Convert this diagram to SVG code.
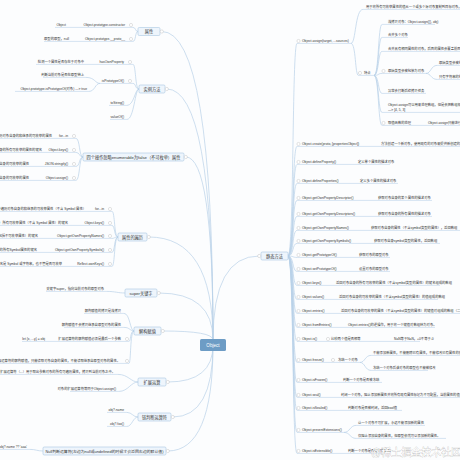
<svg xmlns="http://www.w3.org/2000/svg" width="460" height="460" viewBox="0 0 460 460">
<style>
text{font-family:"Liberation Sans","Noto Sans CJK SC",sans-serif;fill:#333}
.t{font-size:3.3px}
.e{text-anchor:end}
.bt{font-size:4.2px;text-anchor:middle}
.ul{stroke:#b9d1e8;stroke-width:0.6;fill:none}
.cn{stroke:#b9d1e8;stroke-width:0.7;fill:none}
.bx{fill:#eef5fc;stroke:#a9c7e3;stroke-width:0.6}
.tg{fill:#fff;stroke:#b8b8b8;stroke-width:0.4}
</style>
<rect width="460" height="460" fill="#fcfdfe"/>
<g id="connectors">
<path class="cn" d="M213 340Q213 31.5 161.8 31.5M213 340Q213 89 166.8 89M213 340Q213 157 185.8 157M213 340Q213 237 148.8 237M213 340Q213 293 158.8 293M213 340Q213 331 162.8 331M213 345Q213 382 167.8 382M213 345Q213 417 172.8 417M213 345Q213 451 167.8 451M213 340Q213 256 259.2 256"/>
<path class="cn" d="M138 31.5C135 31.5 136 27.4 133 27.4M138 31.5C135 31.5 136 41.4 133 41.4"/>
<path class="cn" d="M139 89C135 89 136 64.4 133 64.4M139 89C135 89 136 83.4 133 83.4M139 89C135 89 134 105.4 127 105.4M139 89C135 89 134 119.4 127 119.4M100 83.4C95 83.4 95 77.4 86 77.4M100 83.4C95 83.4 95 91.4 89 91.4"/>
<path class="cn" d="M83 157C79 157 80 138.4 76 138.4M83 157C79 157 80 152.4 76 152.4M83 157C79 157 80 166.4 76 166.4M83 157C79 157 80 180.4 76 180.4"/>
<path class="cn" d="M118 237C114 237 115 211.4 112 211.4M118 237C114 237 115 225.4 112 225.4M118 237C114 237 115 238.4 112 238.4M118 237C114 237 115 252.4 112 252.4M118 237C114 237 115 266.4 112 266.4"/>
<path class="cn" d="M125 293C118 293 115 291.4 107 291.4"/>
<path class="cn" d="M134 331C130 331 130 313.4 124 313.4M134 331C130 331 130 327.4 124 327.4M134 331C130 331 131 341.4 129 341.4M134 331C130 331 131 363.4 129 363.4"/>
<path class="cn" d="M138 382C131 382 128 374.4 118 374.4M138 382C131 382 128 391.4 119 391.4"/>
<path class="cn" d="M138 417C133 417 132 412.4 127 412.4M138 417C133 417 132 426.4 127 426.4"/>
<path class="cn" d="M43 451C37 451 36 449.4 30 449.4"/>
<path class="cn" d="M288 256C294 256 292 43.4 297 43.4M288 256C294 256 292 146.4 297 146.4M288 256C294 256 292 164.4 297 164.4M288 256C294 256 292 183.4 297 183.4M288 256C294 256 292 200.4 297 200.4M288 256C294 256 292 216.4 297 216.4M288 256C294 256 292 230.4 297 230.4M288 256C294 256 292 243.4 297 243.4M288 256C294 256 292 257.4 297 257.4M288 256C294 256 292 271.4 297 271.4M288 256C294 256 292 285.4 297 285.4M288 256C294 256 292 299.4 297 299.4M288 256C294 256 292 313.4 297 313.4M288 256C294 256 292 327.4 297 327.4M288 256C294 256 292 341.4 297 341.4M288 256C294 256 292 362.4 297 362.4M288 256C294 256 292 382.4 297 382.4M288 256C294 256 292 397.4 297 397.4M288 256C294 256 292 410.4 297 410.4M288 256C294 256 292 432.4 297 432.4M288 256C294 256 292 453.4 297 453.4"/>
<path class="cn" d="M351 43.4C356 43.4 355 9.4 363 9.4M351 43.4C356 43.4 355 75.4 358.4 75.4"/>
<path class="cn" d="M374 75.4C379 75.4 378 24.4 382 24.4M374 75.4C379 75.4 378 37.4 382 37.4M374 75.4C379 75.4 378 51.4 382 51.4M374 75.4C379 75.4 378 73.4 382 73.4M374 75.4C379 75.4 378 93.4 382 93.4M374 75.4C379 75.4 378 112.4 382 112.4M374 75.4C379 75.4 378 125.4 382 125.4M426 73.4C431 73.4 431 65.4 437 65.4M426 73.4C431 73.4 431 79.4 437 79.4"/>
<path class="cn" d="M360 362.4C365 362.4 365 355.4 371 355.4M360 362.4C365 362.4 365 370.4 371 370.4M344 432.4C350 432.4 350 425.4 356 425.4M344 432.4C350 432.4 350 438.4 356 438.4"/>
</g>
<g id="root"><rect x="200" y="339" width="26" height="12" rx="1.5" fill="#6d9cc5"/><text x="213" y="346.6" style="font-size:4.6px;text-anchor:middle;fill:#fff">Object</text></g>
<g id="b1"><rect class="bx" x="138" y="27.5" width="22" height="8" rx="1.2"/><text class="bt" x="149" y="33">属性</text><circle class="tg" cx="161.8" cy="31.5" r="1.6"/></g>
<g id="b1-1"><line class="ul" x1="55" y1="27.4" x2="133" y2="27.4"/><text class="t e" x="125" y="26.1">Object.prototype.constructor</text><text class="t e" x="66" y="26.1">Object</text><circle class="tg" cx="131" cy="25" r="1.6"/></g>
<g id="b1-2"><line class="ul" x1="44" y1="41.4" x2="133" y2="41.4"/><text class="t e" x="125" y="40.1">Object.prototype.__proto__</text><text class="t e" x="69" y="40.1">原型的原型，null</text><circle class="tg" cx="131" cy="39" r="1.6"/></g>
<g id="b2"><rect class="bx" x="139" y="85" width="26" height="8" rx="1.2"/><text class="bt" x="152" y="90.5">实例方法</text><circle class="tg" cx="166.8" cy="89" r="1.6"/></g>
<g id="b2-1"><line class="ul" x1="36" y1="64.4" x2="133" y2="64.4"/><text class="t e" x="124" y="63.1">hasOwnProperty</text><text class="t e" x="84" y="63.1">检测一个属性是否存在于对象中</text><circle class="tg" cx="130" cy="62" r="1.6"/></g>
<g id="b2-2"><line class="ul" x1="100" y1="83.4" x2="133" y2="83.4"/><text class="t e" x="124" y="82.1">isPrototypeOf()</text><circle class="tg" cx="130" cy="81" r="1.6"/><line class="ul" x1="43" y1="77.4" x2="86" y2="77.4"/><text class="t e" x="84" y="76.1">判断当前对象是否在原型链上</text><line class="ul" x1="15" y1="91.4" x2="89" y2="91.4"/><text class="t e" x="87" y="90.1">Object.prototype.isPrototypeOf(对象) ---&gt; true</text></g>
<g id="b2-3"><line class="ul" x1="109" y1="105.4" x2="127" y2="105.4"/><text class="t e" x="124" y="104.1">toString()</text></g>
<g id="b2-4"><line class="ul" x1="110" y1="119.4" x2="127" y2="119.4"/><text class="t e" x="124" y="118.1">valueOf()</text></g>
<g id="b3"><rect class="bx" x="83" y="153" width="101" height="8" rx="1.2"/><text class="bt" x="133.5" y="158.5">四个操作忽略enumerable为false（不可枚举）属性</text><circle class="tg" cx="185.8" cy="157" r="1.6"/></g>
<g id="b3-1"><line class="ul" x1="0" y1="138.4" x2="76" y2="138.4"/><text class="t e" x="68" y="137.1">for...in</text><text class="t e" x="52" y="137.1">只遍历对象自身的和继承的可枚举的属性</text><circle class="tg" cx="74" cy="136" r="1.6"/></g>
<g id="b3-2"><line class="ul" x1="0" y1="152.4" x2="76" y2="152.4"/><text class="t e" x="68" y="151.1">Object.keys()</text><text class="t e" x="42" y="151.1">返回对象自身的所有可枚举的属性的键名</text><circle class="tg" cx="74" cy="150" r="1.6"/></g>
<g id="b3-3"><line class="ul" x1="0" y1="166.4" x2="76" y2="166.4"/><text class="t e" x="68" y="165.1">JSON.stringify()</text><text class="t e" x="29" y="165.1">只串行化对象自身的可枚举的属性</text><circle class="tg" cx="74" cy="164" r="1.6"/></g>
<g id="b3-4"><line class="ul" x1="0" y1="180.4" x2="76" y2="180.4"/><text class="t e" x="68" y="179.1">Object.assign()</text><text class="t e" x="29" y="179.1">只拷贝对象自身的可枚举的属性</text><circle class="tg" cx="74" cy="178" r="1.6"/></g>
<g id="b4"><rect class="bx" x="118" y="233" width="29" height="8" rx="1.2"/><text class="bt" x="132.5" y="238.5">属性的遍历</text><circle class="tg" cx="148.8" cy="237" r="1.6"/></g>
<g id="b4-1"><line class="ul" x1="0" y1="211.4" x2="112" y2="211.4"/><text class="t e" x="104" y="210.1">for...in</text><text class="t e" x="86" y="210.1">循环遍历对象自身的和继承的可枚举属性（不含 Symbol 属性）</text><circle class="tg" cx="110" cy="209" r="1.6"/></g>
<g id="b4-2"><line class="ul" x1="0" y1="225.4" x2="112" y2="225.4"/><text class="t e" x="104" y="224.1">Object.keys()</text><text class="t e" x="68" y="224.1">返回一个数组，包括对象自身的（不含继承的）所有可枚举属性（不含 Symbol 属性）的键名</text><circle class="tg" cx="110" cy="223" r="1.6"/></g>
<g id="b4-3"><line class="ul" x1="0" y1="238.4" x2="112" y2="238.4"/><text class="t e" x="104" y="237.1">Object.getOwnPropertyNames()</text><text class="t e" x="38" y="237.1">返回一个数组，包含对象自身的所有属性（不含 Symbol 属性，但是包括不可枚举属性）的键名</text><circle class="tg" cx="110" cy="236" r="1.6"/></g>
<g id="b4-4"><line class="ul" x1="0" y1="252.4" x2="112" y2="252.4"/><text class="t e" x="104" y="251.1">Object.getOwnPropertySymbols()</text><text class="t e" x="37" y="251.1">返回一个数组，包含对象自身的所有Symbol属性的键名</text><circle class="tg" cx="110" cy="250" r="1.6"/></g>
<g id="b4-5"><line class="ul" x1="0" y1="266.4" x2="112" y2="266.4"/><text class="t e" x="104" y="265.1">Reflect.ownKeys()</text><text class="t e" x="62" y="265.1">返回一个数组，包含对象自身的所有键名，不管键名是 Symbol 或字符串，也不管是否可枚举</text><circle class="tg" cx="110" cy="264" r="1.6"/></g>
<g id="b5"><rect class="bx" x="125" y="289" width="32" height="8" rx="1.2"/><text class="bt" x="141" y="294.5">super关键字</text><circle class="tg" cx="158.8" cy="293" r="1.6"/></g>
<g id="b5-1"><line class="ul" x1="46" y1="291.4" x2="107" y2="291.4"/><text class="t e" x="104" y="290.1">关键字super，指向当前对象的原型对象</text></g>
<g id="b6"><rect class="bx" x="134" y="327" width="27" height="8" rx="1.2"/><text class="bt" x="147.5" y="332.5">解构赋值</text><circle class="tg" cx="162.8" cy="331" r="1.6"/></g>
<g id="b6-1"><line class="ul" x1="84" y1="313.4" x2="124" y2="313.4"/><text class="t e" x="121" y="312.1">解构赋值的拷贝是浅拷贝</text></g>
<g id="b6-2"><line class="ul" x1="64" y1="327.4" x2="124" y2="327.4"/><text class="t e" x="121" y="326.1">解构赋值不会拷贝继承自原型对象的属性</text></g>
<g id="b6-3"><line class="ul" x1="22" y1="341.4" x2="129" y2="341.4"/><text class="t e" x="121" y="340.1">扩展运算符的解构赋值必须是最后一个参数</text><text class="t e" x="45" y="340.1">let {x, ...y} = obj</text><circle class="tg" cx="127" cy="339" r="1.6"/></g>
<g id="b6-4"><line class="ul" x1="0" y1="363.4" x2="129" y2="363.4"/><text class="t e" x="120" y="362.1">扩展运算符的解构赋值，只能读取对象自身的属性，不能读取继承自原型对象的属性。</text><circle class="tg" cx="127" cy="361" r="1.6"/></g>
<g id="b7"><rect class="bx" x="138" y="378" width="28" height="8" rx="1.2"/><text class="bt" x="152" y="383.5">扩展运算</text><circle class="tg" cx="167.8" cy="382" r="1.6"/></g>
<g id="b7-1"><line class="ul" x1="0" y1="374.4" x2="118" y2="374.4"/><text class="t e" x="115" y="373.1">对象的扩展运算符（...）用于取出参数对象的所有可遍历属性，拷贝到当前对象之中。</text></g>
<g id="b7-2"><line class="ul" x1="70" y1="391.4" x2="119" y2="391.4"/><text class="t e" x="116" y="390.1">对象的扩展运算符等同于Object.assign()</text></g>
<g id="b8"><rect class="bx" x="138" y="413" width="33" height="8" rx="1.2"/><text class="bt" x="154.5" y="418.5">链判断运算符</text><circle class="tg" cx="172.8" cy="417" r="1.6"/></g>
<g id="b8-1"><line class="ul" x1="107" y1="412.4" x2="127" y2="412.4"/><text class="t e" x="124" y="411.1">obj?.name</text></g>
<g id="b8-2"><line class="ul" x1="107" y1="426.4" x2="127" y2="426.4"/><text class="t e" x="124" y="425.1">obj?.foo()</text></g>
<g id="b9"><rect class="bx" x="43" y="447" width="123" height="8" rx="1.2"/><text class="bt" x="104.5" y="452.5" style="font-size:3.9px">Null判断运算符(左边为null或undefined的时候才会返回右边的默认值)</text><circle class="tg" cx="167.8" cy="451" r="1.6"/></g>
<g id="b9-1"><line class="ul" x1="0" y1="449.4" x2="30" y2="449.4"/><text class="t e" x="27" y="448.1">obj?.name ?? 'aaa'</text></g>
<g id="s"><rect class="bx" x="261" y="252" width="27" height="8" rx="1.2"/><text class="bt" x="274.5" y="257.5">静态方法</text><circle class="tg" cx="259.2" cy="256" r="1.6"/></g>
<g id="s1"><line class="ul" x1="297" y1="43.4" x2="351" y2="43.4"/><circle class="tg" cx="298.5" cy="41" r="1.6"/><text class="t" x="302" y="42.1">Object.assign(target, ...sources)</text>
<line class="ul" x1="363" y1="9.4" x2="460" y2="9.4"/><text class="t" x="366" y="8.1">用于将所有可枚举属性的值从一个或多个源对象复制到目标对象，它将返回目标对象。</text>
<line class="ul" x1="358.4" y1="75.4" x2="374" y2="75.4"/><circle class="tg" cx="360" cy="73" r="1.6"/><text class="t" x="364" y="74.1">特点</text>
<line class="ul" x1="382" y1="24.4" x2="435" y2="24.4"/><text class="t" x="388" y="23.1">浅拷贝对象：Object.assign({}, obj)</text>
<line class="ul" x1="382" y1="37.4" x2="408" y2="37.4"/><text class="t" x="388" y="36.1">合并多个对象</text>
<line class="ul" x1="382" y1="51.4" x2="460" y2="51.4"/><text class="t" x="388" y="50.1">合并具有相同属性的对象，后面的属性会覆盖前面的属性（后面覆盖前面）</text>
<line class="ul" x1="382" y1="73.4" x2="426" y2="73.4"/><circle class="tg" cx="383.5" cy="71" r="1.6"/><text class="t" x="388" y="72.1">原始类型会被包装为对象</text>
<line class="ul" x1="437" y1="65.4" x2="460" y2="65.4"/><text class="t" x="439" y="64.1">原始类型会被包装为对象后再拷贝</text>
<line class="ul" x1="437" y1="79.4" x2="460" y2="79.4"/><text class="t" x="439" y="78.1">只有字符串的包装对象会产生可枚举属性</text>
<line class="ul" x1="382" y1="93.4" x2="426" y2="93.4"/><text class="t" x="388" y="92.1">异常会打断后续拷贝任务</text>
<line class="ul" x1="382" y1="112.4" x2="460" y2="112.4"/><text class="t" x="388" y="106.1">Object.assign可以用来处理数组，但是会把数组视为对象</text><text class="t" x="388" y="111.1">—&gt; [4, 5, 3]</text>
<line class="ul" x1="382" y1="125.4" x2="460" y2="125.4"/><circle class="tg" cx="383.5" cy="123" r="1.6"/><text class="t" x="388" y="124.1">取值函数的处理</text><text class="t" x="428" y="124.1">Object.assign只能进行值的复制，取值函数会求值后再复制</text></g>
<g id="s2"><line class="ul" x1="297" y1="146.4" x2="460" y2="146.4"/><circle class="tg" cx="298.5" cy="144" r="1.6"/><text class="t" x="302" y="145.1">Object.create(proto, [propertiesObject])</text><text class="t" x="381" y="145.1">方法创建一个新对象，使用现有的对象来提供新创建的对象的__proto__</text></g>
<g id="s3"><line class="ul" x1="297" y1="164.4" x2="390" y2="164.4"/><circle class="tg" cx="298.5" cy="162" r="1.6"/><text class="t" x="302" y="163.1">Object.defineProperty()</text><text class="t" x="358" y="163.1">定义单个属性的描述对象</text></g>
<g id="s4"><line class="ul" x1="297" y1="183.4" x2="398" y2="183.4"/><circle class="tg" cx="298.5" cy="181" r="1.6"/><text class="t" x="302" y="182.1">Object.defineProperties()</text><text class="t" x="360" y="182.1">定义多个属性的描述对象</text></g>
<g id="s5"><line class="ul" x1="297" y1="200.4" x2="432" y2="200.4"/><circle class="tg" cx="298.5" cy="198" r="1.6"/><text class="t" x="302" y="199.1">Object.getOwnPropertyDescriptor()</text><text class="t" x="378" y="199.1">获取对象自身的某个属性的描述对象</text></g>
<g id="s6"><line class="ul" x1="297" y1="216.4" x2="432" y2="216.4"/><circle class="tg" cx="298.5" cy="214" r="1.6"/><text class="t" x="302" y="215.1">Object.getOwnPropertyDescriptors()</text><text class="t" x="378" y="215.1">获取对象自身的所有属性的描述对象</text></g>
<g id="s7"><line class="ul" x1="297" y1="230.4" x2="460" y2="230.4"/><circle class="tg" cx="298.5" cy="228" r="1.6"/><text class="t" x="302" y="229.1">Object.getOwnPropertyNames()</text><text class="t" x="371" y="229.1">获取对象自身的属性（不含symbol类型的属性），返回数组</text></g>
<g id="s8"><line class="ul" x1="297" y1="243.4" x2="440" y2="243.4"/><circle class="tg" cx="298.5" cy="241" r="1.6"/><text class="t" x="302" y="242.1">Object.getOwnPropertySymbols()</text><text class="t" x="374" y="242.1">获取对象自身symbol类型的属性，返回数组</text></g>
<g id="s9"><line class="ul" x1="297" y1="257.4" x2="390" y2="257.4"/><circle class="tg" cx="298.5" cy="255" r="1.6"/><text class="t" x="302" y="256.1">Object.getPrototypeOf()</text><text class="t" x="359" y="256.1">获取对象的原型对象</text></g>
<g id="s10"><line class="ul" x1="297" y1="271.4" x2="390" y2="271.4"/><circle class="tg" cx="298.5" cy="269" r="1.6"/><text class="t" x="302" y="270.1">Object.setPrototypeOf()</text><text class="t" x="359" y="270.1">设置对象的原型对象</text></g>
<g id="s11"><line class="ul" x1="297" y1="285.4" x2="440" y2="285.4"/><circle class="tg" cx="298.5" cy="283" r="1.6"/><text class="t" x="302" y="284.1">Object.keys()</text><text class="t" x="336" y="284.1">返回对象自身的所有可枚举的属性（不含symbol类型的属性）的键名组成的数组</text></g>
<g id="s12"><line class="ul" x1="297" y1="299.4" x2="438" y2="299.4"/><circle class="tg" cx="298.5" cy="297" r="1.6"/><text class="t" x="302" y="298.1">Object.values()</text><text class="t" x="339" y="298.1">返回对象自身的可枚举的属性（不含symbol类型的属性）的值组成的数组</text></g>
<g id="s13"><line class="ul" x1="297" y1="313.4" x2="460" y2="313.4"/><circle class="tg" cx="298.5" cy="311" r="1.6"/><text class="t" x="302" y="312.1">Object.entries()</text><text class="t" x="341" y="312.1">返回对象自身的可枚举的属性（不含symbol类型的属性）的键值对组成的数组（二维数组）</text></g>
<g id="s14"><line class="ul" x1="297" y1="327.4" x2="435" y2="327.4"/><circle class="tg" cx="298.5" cy="325" r="1.6"/><text class="t" x="302" y="326.1">Object.fromEntries()</text><text class="t" x="348" y="326.1">Object.entries()的逆操作，用于将一个键值对数组转为对象。</text></g>
<g id="s15"><line class="ul" x1="297" y1="341.4" x2="420" y2="341.4"/><circle class="tg" cx="298.5" cy="339" r="1.6"/><text class="t" x="302" y="340.1">Object.is()</text><circle class="tg" cx="328" cy="339" r="1.6"/><text class="t" x="331" y="340.1">比较两个值是否相等</text><text class="t" x="394" y="340.1">NaN等于NaN，+0不等于-0</text></g>
<g id="s16"><line class="ul" x1="297" y1="362.4" x2="360" y2="362.4"/><circle class="tg" cx="298.5" cy="360" r="1.6"/><text class="t" x="302" y="361.1">Object.freeze()</text><circle class="tg" cx="333" cy="360" r="1.6"/><text class="t" x="338" y="361.1">冻结一个对象</text>
<line class="ul" x1="371" y1="355.4" x2="460" y2="355.4"/><text class="t" x="373" y="354.1">不能添加新属性，不能删除已有属性，不能修改已有属性的值、可枚举性、可配置性、可写性</text>
<line class="ul" x1="371" y1="370.4" x2="428" y2="370.4"/><text class="t" x="373" y="369.1">冻结一个对象后该对象的原型也不能被修改</text></g>
<g id="s17"><line class="ul" x1="297" y1="382.4" x2="382" y2="382.4"/><circle class="tg" cx="298.5" cy="380" r="1.6"/><text class="t" x="302" y="381.1">Object.isFrozen()</text><text class="t" x="343" y="381.1">判断一个对象是否被冻结</text></g>
<g id="s18"><line class="ul" x1="297" y1="397.4" x2="460" y2="397.4"/><circle class="tg" cx="298.5" cy="395" r="1.6"/><text class="t" x="302" y="396.1">Object.seal()</text><text class="t" x="341" y="396.1">封闭一个对象，阻止添加新属性并将所有现有属性标记为不可配置，当前属性的值只要原来是可写的就可以改变</text></g>
<g id="s19"><line class="ul" x1="297" y1="410.4" x2="402" y2="410.4"/><circle class="tg" cx="298.5" cy="408" r="1.6"/><text class="t" x="302" y="409.1">Object.isSealed()</text><text class="t" x="348" y="409.1">判断对象是否被封闭，返回bool值</text></g>
<g id="s20"><line class="ul" x1="297" y1="432.4" x2="344" y2="432.4"/><circle class="tg" cx="298.5" cy="430" r="1.6"/><text class="t" x="302" y="431.1">Object.preventExtensions()</text>
<line class="ul" x1="356" y1="425.4" x2="425" y2="425.4"/><text class="t" x="358" y="424.1">让一个对象不可扩展，永远不能添加新的属性</text>
<line class="ul" x1="356" y1="438.4" x2="446" y2="438.4"/><text class="t" x="358" y="437.1">仅阻止添加自身的属性，但原型依然可以添加新的属性。</text></g>
<g id="s21"><line class="ul" x1="297" y1="453.4" x2="382" y2="453.4"/><circle class="tg" cx="298.5" cy="451" r="1.6"/><text class="t" x="302" y="452.1">Object.isExtensible()</text><text class="t" x="348" y="452.1">判断一个对象是否是可扩展的</text></g>
<text x="371" y="456" style="font-size:10px;fill:#fff;stroke:#a0a0a0;stroke-width:0.35;paint-order:stroke">@稀土掘金技术社区</text>
</svg>
